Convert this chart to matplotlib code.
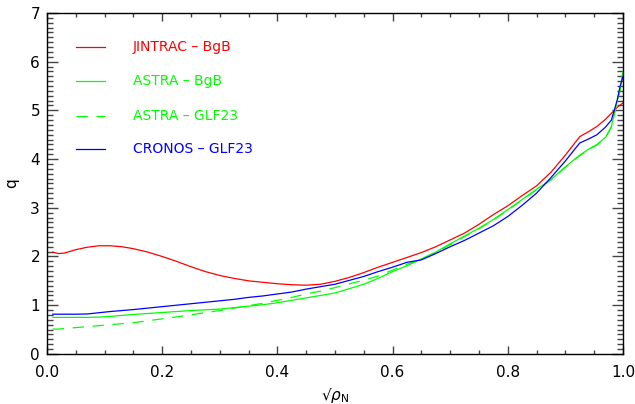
import numpy as np
import matplotlib
matplotlib.use("Agg")
import matplotlib.pyplot as plt
from matplotlib.ticker import MultipleLocator

# sqrt(rho_N) grid shared by all profiles
rho = [0.01, 0.02, 0.03, 0.05, 0.07, 0.09, 0.11, 0.13, 0.15, 0.175,
       0.2, 0.225, 0.25, 0.275, 0.3, 0.325, 0.35, 0.375, 0.4, 0.425,
       0.45, 0.475, 0.5, 0.525, 0.55, 0.575, 0.6, 0.625, 0.65, 0.675,
       0.7, 0.725, 0.75, 0.775, 0.8, 0.825, 0.85, 0.875, 0.9, 0.925,
       0.94, 0.955, 0.97, 0.98, 0.99, 0.995, 1.0]

q_jintrac_bgb = [2.09, 2.06, 2.07, 2.14, 2.19, 2.22, 2.22, 2.20, 2.16, 2.09,
                 2.00, 1.90, 1.79, 1.69, 1.61, 1.55, 1.50, 1.47, 1.44, 1.42,
                 1.41, 1.43, 1.49, 1.57, 1.67, 1.78, 1.88, 1.98, 2.08, 2.20,
                 2.34, 2.48, 2.66, 2.86, 3.04, 3.25, 3.45, 3.73, 4.08, 4.46,
                 4.56, 4.67, 4.82, 4.94, 5.06, 5.11, 5.15]

q_astra_bgb = [0.75, 0.75, 0.75, 0.75, 0.75, 0.755, 0.77, 0.79, 0.81, 0.83,
               0.85, 0.87, 0.89, 0.905, 0.92, 0.95, 0.98, 1.01, 1.05, 1.10,
               1.15, 1.20, 1.25, 1.34, 1.43, 1.55, 1.69, 1.81, 1.95, 2.09,
               2.26, 2.42, 2.58, 2.76, 2.96, 3.17, 3.38, 3.58, 3.84, 4.08,
               4.20, 4.30, 4.45, 4.67, 5.19, 5.42, 5.80]

q_astra_glf23 = [0.51, 0.51, 0.52, 0.54, 0.56, 0.58, 0.60, 0.62, 0.64, 0.68,
                 0.72, 0.76, 0.80, 0.85, 0.89, 0.94, 0.99, 1.04, 1.10, 1.16,
                 1.23, 1.29, 1.36, 1.44, 1.51, 1.60, 1.72, 1.84, 1.95, 2.08,
                 2.24, 2.41, 2.57, 2.75, 2.95, 3.16, 3.37, 3.57, 3.83, 4.07,
                 4.19, 4.29, 4.44, 4.66, 5.18, 5.41, 5.78]

q_cronos_glf23 = [0.815, 0.815, 0.815, 0.815, 0.82, 0.845, 0.87, 0.89, 0.91, 0.94,
                  0.97, 1.00, 1.03, 1.06, 1.09, 1.12, 1.16, 1.19, 1.23, 1.27,
                  1.33, 1.38, 1.43, 1.51, 1.59, 1.69, 1.78, 1.88, 1.93, 2.06,
                  2.20, 2.33, 2.48, 2.63, 2.82, 3.05, 3.30, 3.62, 3.96, 4.33,
                  4.41, 4.50, 4.66, 4.80, 5.21, 5.49, 5.69]

labels = ["JINTRAC - BgB", "ASTRA - BgB", "ASTRA - GLF23", "CRONOS - GLF23"]
colors = ["#ff0000", "#00ff00", "#00ff00", "#0000ff"]
styles = ["-", "-", (0, (9, 7)), "-"]
series = [q_jintrac_bgb, q_astra_bgb, q_astra_glf23, q_cronos_glf23]

plt.rcParams["font.family"] = "DejaVu Sans"

fig = plt.figure(figsize=(6.35, 4.04), dpi=100)
ax = fig.add_axes([0.074, 0.124, 0.907, 0.844])

for y, c, ls in zip(series, colors, styles):
    ax.plot(rho, y, color=c, linestyle=ls, linewidth=0.9)

# legend drawn by hand, IDL style
leg_y = [6.31, 5.60, 4.89, 4.20]
for lab, c, ls, ly in zip(labels, colors, styles, leg_y):
    ax.plot([0.05, 0.10], [ly, ly], color=c, linestyle=ls, linewidth=0.9)
    ax.text(0.149, ly, lab.replace("-", "\u2013"), color=c, fontsize=10,
            va="center", ha="left")

ax.set_xlim(0, 1)
ax.set_ylim(0, 7)
ax.xaxis.set_major_locator(MultipleLocator(0.2))
ax.xaxis.set_minor_locator(MultipleLocator(0.05))
ax.yaxis.set_major_locator(MultipleLocator(1))
ax.yaxis.set_minor_locator(MultipleLocator(0.1))
ax.set_xticklabels([])
ax.set_xticks(np.arange(0, 1.01, 0.2))
ax.set_xticklabels(["0.0", "0.2", "0.4", "0.6", "0.8", "1.0"])

ax.tick_params(axis="x", which="major", direction="in", length=6, width=1,
               top=True, bottom=True, labelsize=11, pad=8, color="#444444")
ax.tick_params(axis="x", which="minor", direction="in", length=3, width=1,
               top=True, bottom=True, color="#444444")
ax.tick_params(axis="y", which="major", direction="in", length=8, width=1,
               left=True, right=True, labelsize=11, pad=5, color="#444444")
ax.tick_params(axis="y", which="minor", direction="in", length=4.5, width=1,
               left=True, right=True, color="#444444")

for sp in ax.spines.values():
    sp.set_linewidth(1)

ax.set_xlabel("\u221a$\\rho_{\\rm N}$", fontsize=11, labelpad=4)
ax.set_ylabel("q", fontsize=11, labelpad=8)

fig.savefig("out.png", dpi=100)
